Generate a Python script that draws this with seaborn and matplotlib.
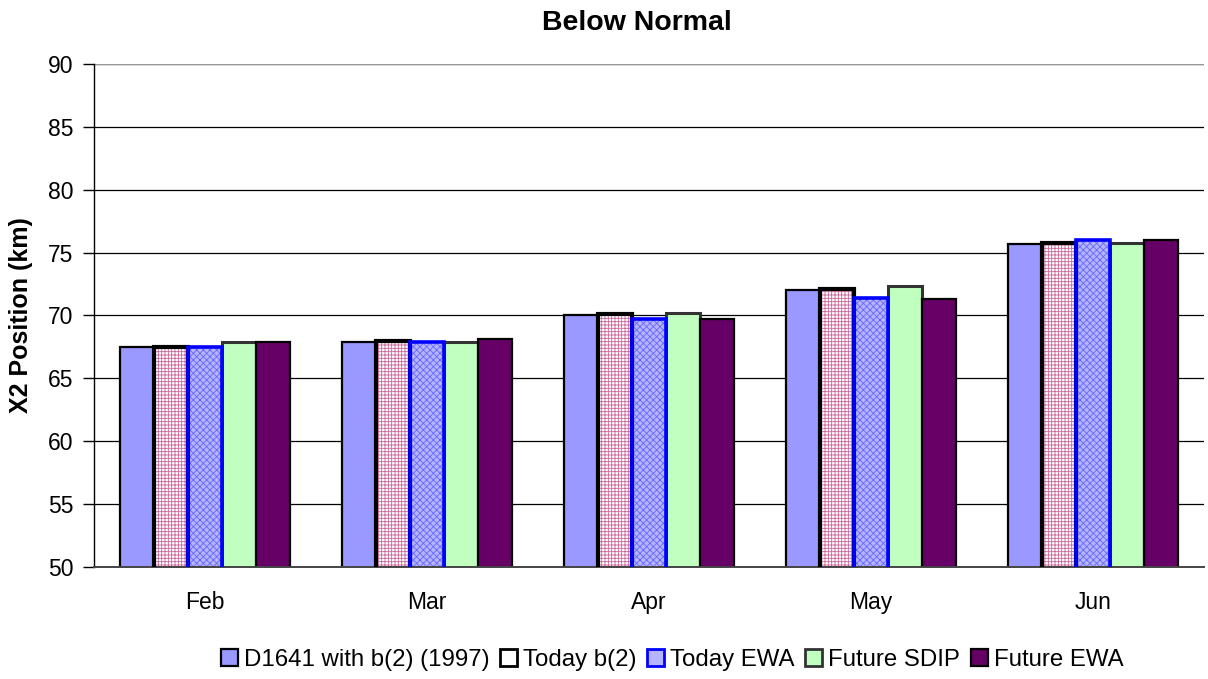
import matplotlib
import numpy as np
import pandas as pd
import seaborn as sns
from matplotlib import pyplot as plt
from matplotlib.patches import Patch, Rectangle

matplotlib.use("Agg")

MONTHS = ["Feb", "Mar", "Apr", "May", "Jun"]
SERIES = ["D1641 with b(2) (1997)", "Today b(2)", "Today EWA", "Future SDIP", "Future EWA"]
D1641 = [67.5, 67.9, 70.0, 72.05, 75.7]
TODAY_B2 = [67.5, 68.0, 70.1, 72.1, 75.75]
TODAY_EWA = [67.5, 67.9, 69.7, 71.4, 76.0]
FUTURE_SDIP = [67.9, 67.9, 70.2, 72.35, 75.8]
FUTURE_EWA = [67.9, 68.1, 69.7, 71.3, 76.0]

# face, edge, edge width, hatch, hatch colour
STYLES = {
    "D1641 with b(2) (1997)": ("#9999FF", "#000000", 1.6, None, None),
    "Today b(2)": ("#FFFFFF", "#000000", 3.0, "+++++", "#CC6699"),
    "Today EWA": ("#B4B4FF", "#0000FF", 2.6, "xxxxx", "#6666FF"),
    "Future SDIP": ("#C0FFC0", "#333333", 2.2, None, None),
    "Future EWA": ("#660066", "#000000", 1.6, None, None),
}

values = [D1641, TODAY_B2, TODAY_EWA, FUTURE_SDIP, FUTURE_EWA]
data = pd.DataFrame(
    [(m, s, v) for s, vals in zip(SERIES, values) for m, v in zip(MONTHS, vals)],
    columns=["month", "series", "x2"],
)

sns.set_theme(style="white")
plt.rcParams["font.family"] = ["Liberation Sans", "DejaVu Sans"]
plt.rcParams["hatch.linewidth"] = 0.6
plt.rcParams["text.color"] = "black"
plt.rcParams["axes.labelcolor"] = "black"
plt.rcParams["xtick.color"] = "black"
plt.rcParams["ytick.color"] = "black"

W, H = 1208, 679
fig = plt.figure(figsize=(W / 100, H / 100), dpi=100)
ax = fig.add_axes([94 / W, 1 - 567 / H, (1204 - 94) / W, (567 - 64) / H])

for y in range(55, 91, 5):
    ax.axhline(y, color="#000000", lw=0.9, zorder=0)

sns.barplot(data=data, x="month", y="x2", hue="series", order=MONTHS, hue_order=SERIES,
            width=0.766, ax=ax, legend=False, zorder=2)

n = len(MONTHS)
for i, s in enumerate(SERIES):
    face, edge, lw, hatch, hcol = STYLES[s]
    for p in ax.patches[i * n:(i + 1) * n]:
        p.set_facecolor(face)
        if hatch:
            p.set_hatch(hatch)
            p.set_edgecolor(hcol)
            p.set_linewidth(0)
            ax.add_patch(Rectangle((p.get_x(), p.get_y()), p.get_width(), p.get_height(),
                                   fill=False, ec=edge, lw=lw, zorder=3))
        else:
            p.set_edgecolor(edge)
            p.set_linewidth(lw)

ax.set_ylim(50, 90)
ax.set_yticks(range(50, 91, 5))
ax.set_xlim(-0.5, n - 0.5)
ax.set_xticks(range(n))
ax.set_xticklabels(MONTHS)
ax.set_xticks(np.arange(0.5, n - 0.5, 1), minor=True)
ax.tick_params(axis="x", which="major", length=0, labelsize=16.5, pad=17)
ax.tick_params(axis="x", which="minor", length=7, width=1, color="#555555", direction="out")
ax.tick_params(axis="y", length=8, width=1, labelsize=16.5, direction="out", left=True, pad=7)
ax.set_xlabel("")
ax.set_ylabel("X2 Position (km)", fontsize=18, fontweight="bold")
ax.yaxis.set_label_coords((33 - 94) / 1110, 0.5)
fig.text(637 / W, 1 - 23 / H, "Below Normal", fontsize=20.5, fontweight="bold", ha="center", va="center")

for side in ["top", "right"]:
    ax.spines[side].set_visible(False)
ax.spines["left"].set_color("#000000")
ax.spines["bottom"].set_color("#444444")
ax.spines["left"].set_linewidth(1)
ax.spines["bottom"].set_linewidth(1.4)
ax.axhline(90, color="#999999", lw=1.6, zorder=1)

handles = []
for s in SERIES:
    face, edge, lw, hatch, hcol = STYLES[s]
    handles.append(Patch(facecolor=face, edgecolor=edge, linewidth=min(lw, 2)))
fig.legend(handles, SERIES, loc="center", bbox_to_anchor=(672 / W, 1 - 660 / H), ncol=5,
           frameon=False, fontsize=17.3, handlelength=0.7, handleheight=0.7, handletextpad=0.25,
           columnspacing=0.45, borderpad=0)

fig.savefig("out.png", dpi=100)
